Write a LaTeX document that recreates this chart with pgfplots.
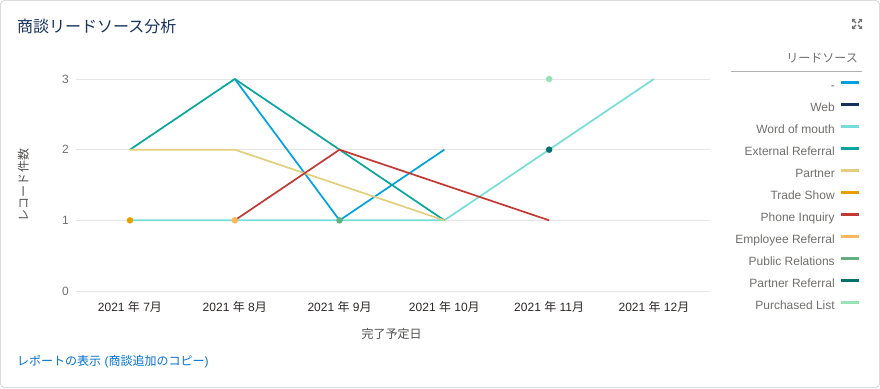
\documentclass[border=0pt]{standalone}
\usepackage{fontspec}
\setmainfont{Liberation Sans}
\newfontfamily\cjk{Noto Sans CJK JP}
\usepackage{pgfplots}
\pgfplotsset{compat=1.18}
\definecolor{cardborder}{HTML}{DDDBDA}
\definecolor{titlec}{HTML}{16325C}
\definecolor{gridc}{HTML}{E5E5E5}
\definecolor{ticky}{HTML}{706E6B}
\definecolor{tickx}{HTML}{2B2826}
\definecolor{labc}{HTML}{514F4D}
\definecolor{legtext}{HTML}{706E6B}
\definecolor{linkc}{HTML}{0070D2}
\definecolor{dashc}{HTML}{00A1E0}
\definecolor{webc}{HTML}{16325C}
\definecolor{womc}{HTML}{76DED9}
\definecolor{extc}{HTML}{08A69E}
\definecolor{partc}{HTML}{E2CE7D}
\definecolor{tradec}{HTML}{E69F00}
\definecolor{phonec}{HTML}{C23934}
\definecolor{empc}{HTML}{FFB75D}
\definecolor{prc}{HTML}{60B17D}
\definecolor{prefc}{HTML}{00716B}
\definecolor{plc}{HTML}{97E3B4}
\begin{document}
\begin{tikzpicture}[x=1pt,y=1pt]
\begin{scope}[shift={(-76pt,-97pt)}]
\useasboundingbox (0,0) rectangle (880,388);
\draw[color=cardborder, line width=1pt, rounded corners=4pt] (0.5,0.5) rectangle (879.5,387.5);
\node[anchor=west, inner sep=0pt, font=\fontsize{16}{19}\selectfont\cjk, text=titlec] at (17,362) {商談リードソース分析};
\node[anchor=west, inner sep=0pt, font=\fontsize{12}{14}\selectfont, text=linkc] at (17,26.5) {{\cjk レポートの表示} ({\cjk 商談追加のコピー})};
% expand icon
\foreach \sx/\sy in {1/1,1/-1,-1/1,-1/-1}{
  \fill[ticky] (857+5*\sx,364+5*\sy) -- (857+1.5*\sx,364+5*\sy) -- (857+5*\sx,364+1.5*\sy) -- cycle;
  \draw[ticky, line width=1.2pt] (857+1*\sx,364+1*\sy) -- (857+3.5*\sx,364+3.5*\sy);
}
% legend title
\node[anchor=east, inner sep=0pt, font=\fontsize{12}{14}\selectfont\cjk, text=legtext] at (858,329.5) {リードソース};
\draw[color=black!30, line width=1.6pt] (731,316.3) -- (862,316.3);
\end{scope}
\begin{axis}[
  anchor=south west, scale only axis,
  width=634pt, height=212pt,
  xmin=-0.515, xmax=5.535, ymin=0, ymax=3,
  clip=false,
  axis line style={draw=none},
  major tick length=0pt,
  ymajorgrids,
  grid style={color=gridc, line width=0.9pt},
  xtick={0,1,2,3,4,5},
  xticklabels={{2021 {\cjk 年} 7{\cjk 月}},{2021 {\cjk 年} 8{\cjk 月}},{2021 {\cjk 年} 9{\cjk 月}},{2021 {\cjk 年} 10{\cjk 月}},{2021 {\cjk 年} 11{\cjk 月}},{2021 {\cjk 年} 12{\cjk 月}}},
  ytick={0,1,2,3},
  /pgf/number format/assume math mode=true,
  xticklabel style={font=\fontsize{12}{14}\selectfont, text=tickx, anchor=base, inner sep=0pt, yshift=-20pt},
  yticklabel style={font=\fontsize{12}{14}\selectfont, text=ticky, anchor=base east, inner sep=0pt, xshift=-7pt, yshift=-4.3pt},
  xlabel={\cjk 完了予定日},
  xlabel style={at={(axis description cs:0.498,-0.2050)}, anchor=center, font=\fontsize{12}{14}\selectfont, text=labc},
  ylabel={\cjk レコード件数},
  ylabel style={at={(axis description cs:-0.0830,0.5)}, anchor=center, font=\fontsize{12}{14}\selectfont, text=labc},
  legend cell align=right,
  legend plot pos=right,
  legend image code/.code={\draw[#1, line width=3pt, mark=none] (0pt,3.5pt) -- (18pt,3.5pt);},
  legend style={at={(axis description cs:1.2381,0.9952)}, anchor=north east, draw=none, fill=none, inner sep=0pt, row sep=10pt, font=\fontsize{12}{14}\selectfont,
    nodes={inner sep=0pt, text height=9pt, text depth=3pt, text=legtext},
    /tikz/every odd column/.append style={column sep=5pt}},
  every axis plot/.append style={line width=1.7pt},
  mark size=3pt,
]
\addplot[dashc] coordinates {(1,3) (2,1) (3,2)};
\addlegendentry{-}
\addlegendimage{webc, line width=1.6pt}
\addlegendentry{Web}
\addplot[womc] coordinates {(0,1) (1,1) (2,1) (3,1) (4,2) (5,3)};
\addlegendentry{Word of mouth}
\addplot[extc] coordinates {(0,2) (1,3) (2,2) (3,1)};
\addlegendentry{External Referral}
\addplot[partc] coordinates {(0,2) (1,2) (3,1)};
\addlegendentry{Partner}
\addplot[tradec, mark=*, mark options={solid, line width=0.4pt}] coordinates {(0,1)};
\addlegendentry{Trade Show}
\addplot[phonec] coordinates {(1,1) (2,2) (4,1)};
\addlegendentry{Phone Inquiry}
\addplot[empc, mark=*, mark options={solid, line width=0.4pt}] coordinates {(1,1)};
\addlegendentry{Employee Referral}
\addplot[prc, mark=*, mark options={solid, line width=0.4pt}] coordinates {(2,1)};
\addlegendentry{Public Relations}
\addplot[prefc, mark=*, mark options={solid, line width=0.4pt}] coordinates {(4,2)};
\addlegendentry{Partner Referral}
\addplot[plc, mark=*, mark options={solid, line width=0.4pt}] coordinates {(4,3)};
\addlegendentry{Purchased List}
\end{axis}
\end{tikzpicture}
\end{document}
